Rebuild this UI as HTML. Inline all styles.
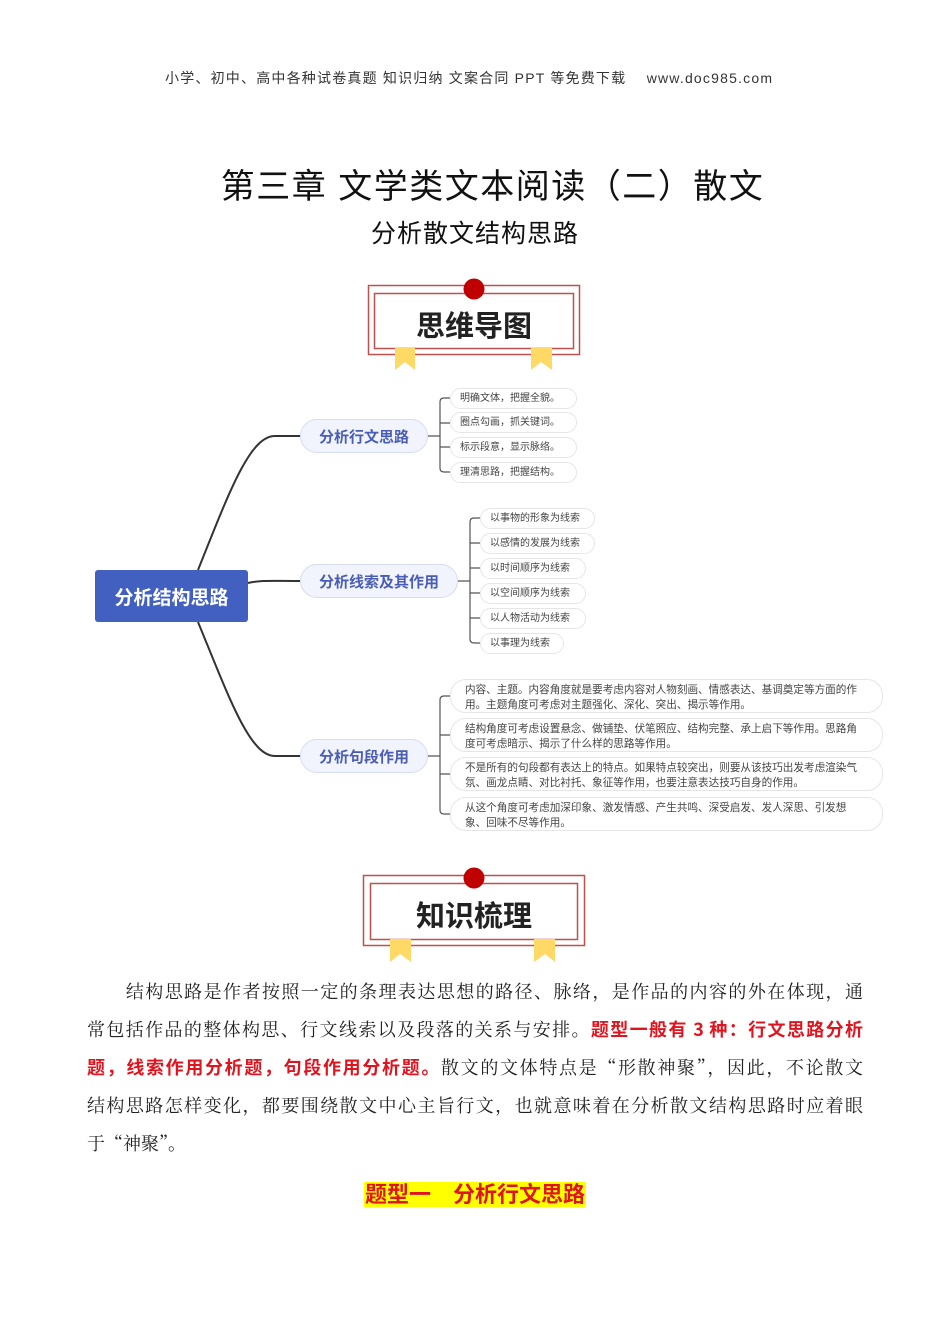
<!DOCTYPE html>
<html><head><meta charset="utf-8"><style>
body{margin:0;width:950px;height:1344px;background:#fff;position:relative;font-family:"Liberation Sans","Noto Sans CJK SC",sans-serif;overflow:hidden}
.a{position:absolute}
.pill{position:absolute;background:#f1f3fd;border:1.5px solid #d5dcf3;border-radius:20px;color:#4a5db5;font-weight:bold;font-size:15px;display:flex;align-items:center;justify-content:center;box-sizing:border-box}
.leaf{position:absolute;border:1px solid #e6e6e6;border-radius:11px;font-size:10px;color:#444;box-sizing:border-box;padding:0 0 0 9px;height:21px;line-height:19px;white-space:nowrap}
.lg{position:absolute;border:1px solid #e6e6e6;border-radius:16px;font-size:10.6px;color:#444;box-sizing:border-box;padding:3px 18px 0 14px;line-height:15px;width:433px;height:34px}
.p{position:absolute;left:87px;width:776px;font-family:"Noto Serif CJK SC",serif;font-size:18px;color:#222;height:38px;line-height:38px;text-align:justify;text-align-last:justify;white-space:nowrap}
.r{color:#e0141e;font-weight:bold;font-family:"Noto Sans CJK SC",sans-serif}
</style></head><body>
<div class="a" style="left:165px;top:68px;font-size:14px;color:#333;white-space:nowrap;letter-spacing:1.2px">小学、初中、高中各种试卷真题 知识归纳 文案合同 PPT 等免费下载 &nbsp;&nbsp; www.doc985.com</div>
<div class="a" style="left:0;width:985px;top:159px;text-align:center;font-size:34px;color:#111;letter-spacing:1.5px">第三章 文学类文本阅读（二）散文</div>
<div class="a" style="left:0;width:950px;top:214px;text-align:center;font-size:25px;color:#111;letter-spacing:1px">分析散文结构思路</div>

<svg class="a" style="left:0;top:0" width="950" height="1344">
<g>
<rect x="368.5" y="285.5" width="211" height="69" fill="none" stroke="#c0504d" stroke-width="1.5"/>
<rect x="374.5" y="293.5" width="199" height="55" fill="#fff" stroke="#c0504d" stroke-width="1.5"/>
<circle cx="474" cy="289" r="10.5" fill="#c00000"/>
<polygon points="395,348 415,348 415,370 405,362 395,370" fill="#ffd966"/>
<polygon points="531,348 552,348 552,370 541,362 531,370" fill="#ffd966"/>
<rect x="363.5" y="875.5" width="221" height="70" fill="none" stroke="#c0504d" stroke-width="1.5"/>
<rect x="370.5" y="883.5" width="207" height="56" fill="#fff" stroke="#c0504d" stroke-width="1.5"/>
<circle cx="474" cy="878" r="10.5" fill="#c00000"/>
<polygon points="390,939 411,939 411,962 400,954 390,962" fill="#ffd966"/>
<polygon points="534,939 555,939 555,962 545,954 534,962" fill="#ffd966"/>
</g>
<g fill="none" stroke="#333" stroke-width="2">
<path d="M198,570 C230,490 250,436 275,436 L300,436"/>
<path d="M248,583 C262,580 270,581 300,581"/>
<path d="M198,622 C230,700 250,756 275,756 L300,756"/>
</g>
<g fill="none" stroke="#555" stroke-width="1.2">
<path d="M428,436 H440 M450,398 H444 Q440,398 440,402 V468 Q440,472 444,472 H450 M440,423 H450 M440,447 H450"/>
<path d="M458,581 H470 M480,518 H474 Q470,518 470,522 V639 Q470,643 474,643 H480 M470,543 H480 M470,568 H480 M470,593 H480 M470,618 H480"/>
<path d="M428,756 H440 M450,696 H444 Q440,696 440,700 V810 Q440,814 444,814 H450 M440,735 H450 M440,774 H450"/>
</g>
</svg>
<div class="a" style="left:374px;width:200px;top:303px;text-align:center;font-size:29px;font-weight:bold;color:#222">思维导图</div>
<div class="a" style="left:370px;width:208px;top:893px;text-align:center;font-size:29px;font-weight:bold;color:#222">知识梳理</div>

<div class="a" style="left:95px;top:570px;width:153px;height:52px;background:#4160c0;border-radius:3px;color:#fff;font-weight:bold;font-size:19px;display:flex;align-items:center;justify-content:center">分析结构思路</div>
<div class="pill" style="left:300px;top:419px;width:128px;height:34px">分析行文思路</div>
<div class="pill" style="left:300px;top:564px;width:158px;height:34px">分析线索及其作用</div>
<div class="pill" style="left:300px;top:739px;width:128px;height:34px">分析句段作用</div>

<div class="leaf" style="left:450px;top:388px;width:127px">明确文体，把握全貌。</div>
<div class="leaf" style="left:450px;top:412px;width:127px">圈点勾画，抓关键词。</div>
<div class="leaf" style="left:450px;top:437px;width:127px">标示段意，显示脉络。</div>
<div class="leaf" style="left:450px;top:462px;width:127px">理清思路，把握结构。</div>

<div class="leaf" style="left:480px;top:508px;width:115px">以事物的形象为线索</div>
<div class="leaf" style="left:480px;top:533px;width:115px">以感情的发展为线索</div>
<div class="leaf" style="left:480px;top:558px;width:106px">以时间顺序为线索</div>
<div class="leaf" style="left:480px;top:583px;width:106px">以空间顺序为线索</div>
<div class="leaf" style="left:480px;top:608px;width:106px">以人物活动为线索</div>
<div class="leaf" style="left:480px;top:633px;width:84px">以事理为线索</div>

<div class="lg" style="left:450px;top:679px">内容、主题。内容角度就是要考虑内容对人物刻画、情感表达、基调奠定等方面的作用。主题角度可考虑对主题强化、深化、突出、揭示等作用。</div>
<div class="lg" style="left:450px;top:718px">结构角度可考虑设置悬念、做铺垫、伏笔照应、结构完整、承上启下等作用。思路角度可考虑暗示、揭示了什么样的思路等作用。</div>
<div class="lg" style="left:450px;top:757px">不是所有的句段都有表达上的特点。如果特点较突出，则要从该技巧出发考虑渲染气氛、画龙点睛、对比衬托、象征等作用，也要注意表达技巧自身的作用。</div>
<div class="lg" style="left:450px;top:797px">从这个角度可考虑加深印象、激发情感、产生共鸣、深受启发、发人深思、引发想象、回味不尽等作用。</div>

<div class="p" style="top:972px">　　结构思路是作者按照一定的条理表达思想的路径、脉络，是作品的内容的外在体现，通</div>
<div class="p" style="top:1010px">常包括作品的整体构思、行文线索以及段落的关系与安排。<span class="r">题型一般有 3 种：行文思路分析</span></div>
<div class="p" style="top:1048px"><span class="r">题，线索作用分析题，句段作用分析题。</span>散文的文体特点是“形散神聚”，因此，不论散文</div>
<div class="p" style="top:1086px">结构思路怎样变化，都要围绕散文中心主旨行文，也就意味着在分析散文结构思路时应着眼</div>
<div class="p" style="top:1124px;text-align-last:left">于“神聚”。</div>
<div class="a" style="left:0;width:950px;top:1177px;text-align:center"><span style="background:#ffff00;color:#e0141e;font-weight:bold;font-size:22px;padding:0 1px">题型一　分析行文思路</span></div>
</body></html>
